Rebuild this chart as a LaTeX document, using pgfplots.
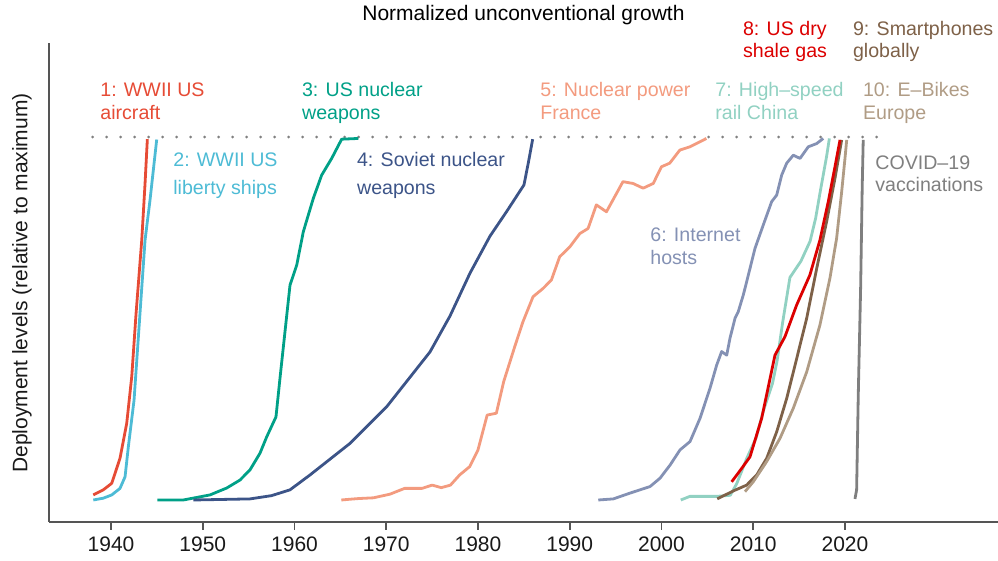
\documentclass[border=0pt]{standalone}
\usepackage{pgfplots}
\pgfplotsset{compat=1.18}
\usepackage{fontspec}
\setmainfont{Liberation Sans}
\definecolor{c1}{HTML}{E64B35}
\definecolor{c2}{HTML}{4DBBD5}
\definecolor{c3}{HTML}{00A087}
\definecolor{c4}{HTML}{3C5488}
\definecolor{c5}{HTML}{F39B7F}
\definecolor{c6}{HTML}{8491B4}
\definecolor{c7}{HTML}{91D1C2}
\definecolor{c8}{HTML}{DC0000}
\definecolor{c9}{HTML}{7E6148}
\definecolor{c10}{HTML}{B09C85}
\definecolor{c11}{HTML}{7F7F7F}
\definecolor{spine}{HTML}{555555}
\newcommand{\lf}{\fontsize{9.8}{11.5}\selectfont}
\newcommand{\tf}{\fontsize{10.5}{12.5}\selectfont}
\begin{document}
\begin{tikzpicture}
\useasboundingbox (-24.5pt,-19.5pt) rectangle (474.5pt,261pt);
\begin{axis}[
  scale only axis, width=474.5pt, height=239.5pt,
  at={(0pt,0pt)}, anchor=south west,
  xmin=1933.24, xmax=2036.68, ymin=-0.0606, ymax=1.259,
  axis x line*=bottom, axis y line*=left,
  axis line style={draw=spine, line width=1pt, -},
  xtick={1940,1950,...,2020}, ytick=\empty,
  tick align=outside, major tick length=3.9pt,
  x tick style={draw=spine, line width=0.9pt},
  xticklabel style={font=\tf, text=black!90},
  /pgf/number format/1000 sep={}, /pgf/number format/assume math mode=true,
  clip=false,
  every axis plot/.append style={line width=1.4pt, line join=round, no markers},
]
\addplot[draw=black!50, line width=1.5pt, line cap=round, dash pattern=on 0pt off 7pt] coordinates {(1938,1) (2024,1)};
% 1 WWII US aircraft
\addplot[c1] coordinates {(1938.07,0.014) (1939.16,0.028) (1940.08,0.046) (1940.98,0.115) (1941.71,0.211) (1942.26,0.340) (1942.73,0.514) (1943.35,0.716) (1943.71,0.872) (1943.96,0.994)};
% 2 Liberty ships
\addplot[c2] coordinates {(1938.07,0) (1939.16,0.005) (1940.08,0.014) (1940.98,0.032) (1941.53,0.064) (1941.89,0.147) (1942.51,0.275) (1943.16,0.515) (1943.71,0.716) (1944.25,0.826) (1944.98,0.993)};
% 3 US nuclear
\addplot[c3] coordinates {(1945.05,0) (1947.88,0) (1950.79,0.014) (1952.61,0.033) (1954.06,0.055) (1955.15,0.083) (1956.24,0.129) (1956.97,0.174) (1957.98,0.229) (1958.42,0.336) (1958.96,0.463) (1959.51,0.592) (1960.24,0.647) (1960.96,0.739) (1962.05,0.831) (1962.96,0.895) (1964.05,0.941) (1965.14,0.994) (1966.95,0.996)};
% 4 Soviet nuclear
\addplot[c4] coordinates {(1948.97,0) (1955.15,0.003) (1957.5,0.012) (1959.51,0.028) (1961.69,0.069) (1966.05,0.156) (1970.05,0.257) (1974.77,0.408) (1976.95,0.507) (1979.13,0.625) (1981.31,0.727) (1983.13,0.795) (1985.01,0.868) (1985.48,0.928) (1985.96,0.994)};
% 5 Nuclear power France
\addplot[c5] coordinates {(1965.1,0) (1966,0.002) (1967,0.004) (1968.6,0.006) (1970.4,0.016) (1972.0,0.032) (1973.9,0.032) (1975.0,0.041) (1976.0,0.034) (1977.0,0.041) (1978.0,0.069) (1979.1,0.092) (1980.0,0.138) (1981.0,0.234) (1982.0,0.239) (1982.8,0.326) (1984.0,0.422) (1984.9,0.491) (1986.0,0.560) (1987.1,0.583) (1988.0,0.606) (1988.9,0.670) (1990.0,0.697) (1991.1,0.734) (1992.0,0.748) (1992.9,0.813) (1994.0,0.794) (1995.0,0.84) (1995.8,0.877) (1996.9,0.872) (1998.0,0.859) (1999.1,0.872) (2000.0,0.918) (2000.9,0.928) (2002.0,0.964) (2003.1,0.973) (2004.9,0.996)};
% 6 Internet hosts
\addplot[c6] coordinates {(1993.11,0) (1994.75,0.003) (1996.57,0.019) (1998.75,0.037) (1999.84,0.060) (2000.93,0.096) (2002.02,0.138) (2003.11,0.161) (2004.20,0.225) (2005.29,0.308) (2006.02,0.372) (2006.56,0.409) (2007.11,0.399) (2007.47,0.446) (2008.02,0.501) (2008.37,0.519) (2008.92,0.565) (2009.65,0.638) (2010.19,0.693) (2011.10,0.758) (2012.01,0.822) (2012.56,0.840) (2013.10,0.895) (2013.65,0.928) (2014.37,0.950) (2015.10,0.941) (2016.0,0.973) (2016.92,0.982) (2017.63,0.996)};
% 7 High-speed rail China
\addplot[c7] coordinates {(2002.1,0) (2003.1,0.010) (2006.0,0.010) (2007.5,0.013) (2008.2,0.045) (2009.3,0.115) (2010.3,0.170) (2011.1,0.245) (2012.1,0.321) (2012.6,0.383) (2013.2,0.488) (2014.0,0.613) (2015.2,0.658) (2016.2,0.713) (2016.8,0.776) (2017.3,0.849) (2018.0,0.947) (2018.3,0.996)};
% 9 Smartphones
\addplot[c9] coordinates {(2006.08,0.003) (2007.83,0.025) (2009.28,0.041) (2010.38,0.069) (2011.47,0.115) (2012.56,0.188) (2013.65,0.280) (2014.74,0.390) (2015.83,0.501) (2016.92,0.638) (2018.0,0.767) (2018.91,0.886) (2019.64,0.992)};
% 10 E-bikes
\addplot[c10] coordinates {(2009.1,0.023) (2010.0,0.050) (2011.47,0.106) (2012.92,0.170) (2014.37,0.253) (2015.83,0.353) (2017.27,0.482) (2018.36,0.611) (2019.09,0.721) (2019.64,0.849) (2020.0,0.941) (2020.19,0.992)};
% 8 US dry shale gas
\addplot[c8] coordinates {(2007.65,0.050) (2008.74,0.087) (2009.65,0.119) (2010.92,0.225) (2012.37,0.399) (2013.46,0.450) (2014.73,0.537) (2016.18,0.620) (2017.27,0.716) (2018.18,0.822) (2018.91,0.918) (2019.46,0.992)};
% 11 COVID
\addplot[c11] coordinates {(2021.09,0.003) (2021.27,0.028) (2021.45,0.29) (2021.71,0.588) (2021.88,0.863) (2021.99,0.992)};
\end{axis}
\begin{scope}[x=0.5pt,y=-0.5pt,shift={(-24.5pt,261pt)}, every node/.style={inner sep=0pt, anchor=base west}]
\node[anchor=base, text=black] at (523.5,20.7) {\tf Normalized unconventional growth};
\node[rotate=90, anchor=center, text=black!90] at (22,283) {\tf Deployment levels (relative to maximum)};
% row A
\node[text=c8] at (742.7,36) {\lf 8: US dry};
\node[text=c8] at (742.7,57.5) {\lf shale gas};
\node[text=c9] at (852.7,36) {\lf 9: Smartphones};
\node[text=c9] at (852.7,57.5) {\lf globally};
% row B
\node[text=c1] at (100,96.7) {\lf 1: WWII US};
\node[text=c1] at (100,119.3) {\lf aircraft};
\node[text=c3] at (301.7,96.7) {\lf 3: US nuclear};
\node[text=c3] at (301.7,119.3) {\lf weapons};
\node[text=c5] at (540,96.7) {\lf 5: Nuclear power};
\node[text=c5] at (540,119.3) {\lf France};
\node[text=c7] at (715,96.7) {\lf 7: High–speed};
\node[text=c7] at (715,119.3) {\lf rail China};
\node[text=c10] at (862.7,96.7) {\lf 10: E–Bikes};
\node[text=c10] at (862.7,119.3) {\lf Europe};
% row C
\node[text=c2] at (173,166.7) {\lf 2: WWII US};
\node[text=c2] at (173,195) {\lf liberty ships};
\node[text=c4] at (356.7,167) {\lf 4: Soviet nuclear};
\node[text=c4] at (356.7,195) {\lf weapons};
\node[text=c6] at (650,241.7) {\lf 6: Internet};
\node[text=c6] at (650,264.3) {\lf hosts};
\node[text=c11] at (875,170) {\lf COVID–19};
\node[text=c11] at (875,191.7) {\lf vaccinations};
\end{scope}
\end{tikzpicture}
\end{document}
